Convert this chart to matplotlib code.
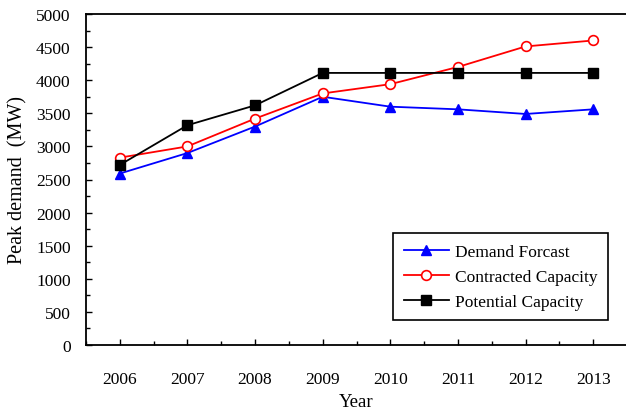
import numpy as np
import matplotlib.pyplot as plt
from matplotlib.ticker import MultipleLocator

years = ['2006', '2007', '2008', '2009', '2010', '2011', '2012', '2013']
demand = [2590, 2900, 3300, 3750, 3600, 3560, 3490, 3560]
contracted = [2830, 3000, 3420, 3800, 3940, 4200, 4510, 4600]
potential = [2720, 3320, 3620, 4110, 4110, 4110, 4110, 4110]

plt.rcParams['font.family'] = 'Liberation Serif'
plt.rcParams['font.size'] = 12.5

fig = plt.figure(figsize=(6.26, 4.14), dpi=100)
ax = fig.add_axes([86/626, 68/414, 541/626, 331/414])

x = np.arange(len(years))
ax.plot(x, demand, color='blue', lw=1.3, marker='^', ms=7.5, mfc='blue', mec='blue',
        label='Demand Forcast', clip_on=False, zorder=3)
ax.plot(x, contracted, color='red', lw=1.3, marker='o', ms=7, mfc='white', mec='red',
        mew=1.2, label='Contracted Capacity', clip_on=False, zorder=3)
ax.plot(x, potential, color='black', lw=1.3, marker='s', ms=6.5, mfc='black', mec='black',
        label='Potential Capacity', clip_on=False, zorder=3)

ax.set_xlim(-0.5, 7.5)
ax.set_ylim(0, 5000)
ax.set_xticks(x)
ax.set_xticklabels(years)
ax.xaxis.set_minor_locator(MultipleLocator(0.5))
ax.yaxis.set_major_locator(MultipleLocator(500))
ax.yaxis.set_minor_locator(MultipleLocator(250))
ax.tick_params(which='both', direction='in', right=False, top=False)
ax.tick_params(which='major', length=4, width=1)
ax.tick_params(which='minor', length=3, width=1)
ax.tick_params(axis='x', which='major', pad=19)
ax.tick_params(axis='y', which='major', pad=11)

for s in ['left', 'bottom', 'top']:
    ax.spines[s].set_linewidth(1.3)
ax.spines['right'].set_visible(False)

ax.set_xlabel('Year', fontsize=13.5, labelpad=4)
ax.set_ylabel('Peak demand  (MW)', fontsize=14.5, labelpad=6)

leg = ax.legend(loc='lower right', bbox_to_anchor=(0.965, 0.0755), frameon=True,
                fancybox=False, edgecolor='black', framealpha=1, handlelength=2.6,
                borderpad=0.6, labelspacing=0.5, handletextpad=0.35, borderaxespad=0)
leg.get_frame().set_linewidth(1.2)

fig.savefig('out.png', dpi=100)
